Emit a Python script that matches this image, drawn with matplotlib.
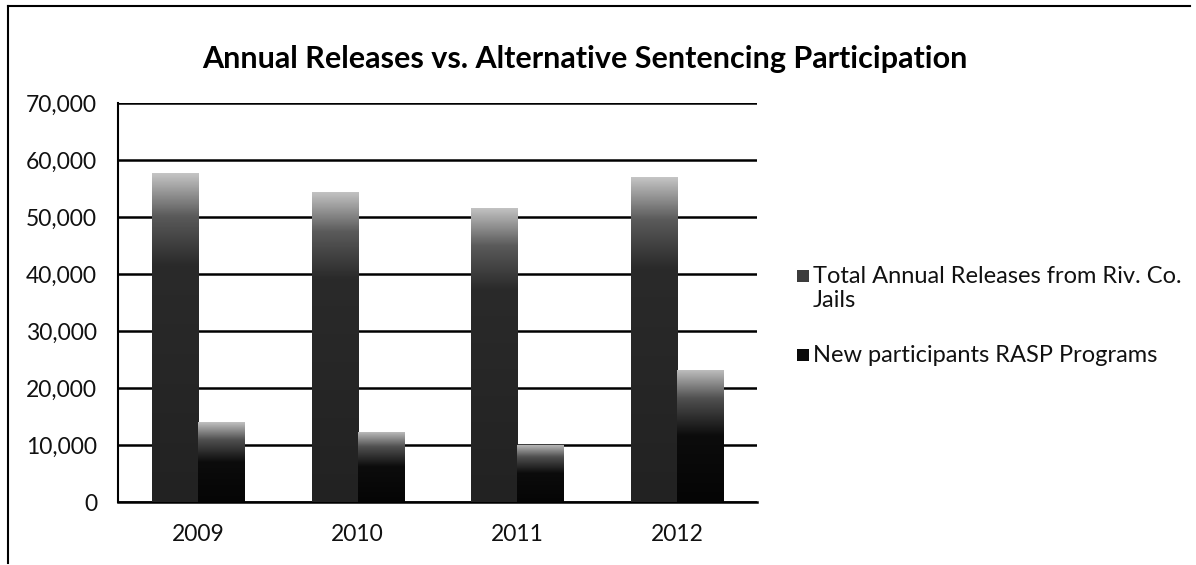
## annual releases vs alternative sentencing participation
import numpy as np
import matplotlib.pyplot as plt
from matplotlib.colors import LinearSegmentedColormap
from matplotlib.patches import Rectangle
from matplotlib.ticker import FuncFormatter

plt.rcParams["font.family"] = ["Lato", "DejaVu Sans"]

years = ["2009", "2010", "2011", "2012"]
total_releases = [57700, 54400, 51600, 57000]
new_participants = [14000, 12300, 10000, 23200]
series_names = ["Total Annual Releases from Riv. Co.\nJails", "New participants RASP Programs"]

fig = plt.figure(figsize=(11.96, 5.65), dpi=100)
ax = fig.add_axes([0.0987, 0.1115, 0.5343, 0.7062])

x = np.arange(len(years))
w = 0.288
b1 = ax.bar(x - w / 2, total_releases, w, color="#2a2a2a", zorder=3)
b2 = ax.bar(x + w / 2, new_participants, w, color="#0a0a0a", zorder=3)

# gradient fill, light only near the top of each bar like the scanned excel fill
cm1 = LinearSegmentedColormap.from_list("g1", [(0, "#222222"), (0.72, "#2a2a2a"), (0.87, "#5a5a5a"), (1, "#c4c4c4")])
cm2 = LinearSegmentedColormap.from_list("g2", [(0, "#050505"), (0.5, "#0c0c0c"), (0.78, "#505050"), (1, "#c0c0c0")])
grad = np.linspace(0, 1, 256).reshape(-1, 1)
for bars, cm in ((b1, cm1), (b2, cm2)):
    for p in bars:
        x0, y0 = p.get_x(), p.get_y()
        im = ax.imshow(grad, cmap=cm, origin="lower", aspect="auto",
                       extent=[x0, x0 + p.get_width(), y0, y0 + p.get_height()], zorder=4)
        im.set_clip_path(p)

ax.set_xlim(-0.5, len(years) - 0.5)
ax.set_ylim(0, 70000)
ax.set_yticks(range(0, 70001, 10000))
ax.yaxis.set_major_formatter(FuncFormatter(lambda v, p: f"{int(v):,}"))
ax.set_xticks(x)
ax.set_xticklabels(years)
ax.tick_params(axis="both", length=0, labelsize=16.5, colors="#111111")
ax.tick_params(axis="y", pad=15)
ax.tick_params(axis="x", pad=16)
ax.grid(axis="y", color="black", linewidth=1.8, zorder=1)
for s in ["top", "right"]:
    ax.spines[s].set_visible(False)
ax.spines["left"].set_linewidth(1.5)
ax.spines["bottom"].set_linewidth(1.8)

fig.text(0.489, 0.895, "Annual Releases vs. Alternative Sentencing Participation",
         ha="center", va="center", fontsize=22, fontweight="bold")

# legend: square marker aligned with first text line, as in the excel chart
leg_y = [(565 - 276) / 565, (565 - 355) / 565]
for name, c, yy in zip(series_names, ["#3c3c3c", "#0a0a0a"], leg_y):
    fig.add_artist(Rectangle((797 / 1196, yy - 0.011), 12 / 1196, 0.022,
                             facecolor=c, edgecolor="none", transform=fig.transFigure))
    fig.text(813 / 1196, yy + 0.018, name, ha="left", va="top", fontsize=17,
             color="#111111", linespacing=1.2)

# outer chart frame (left and top edges visible in scan)
fig.add_artist(plt.Line2D([0.0065, 0.0065], [0.003, 0.99], color="black", lw=1.5, transform=fig.transFigure))
fig.add_artist(plt.Line2D([0.0065, 0.995], [0.99, 0.99], color="black", lw=1.5, transform=fig.transFigure))

plt.savefig("out.png", dpi=100)
